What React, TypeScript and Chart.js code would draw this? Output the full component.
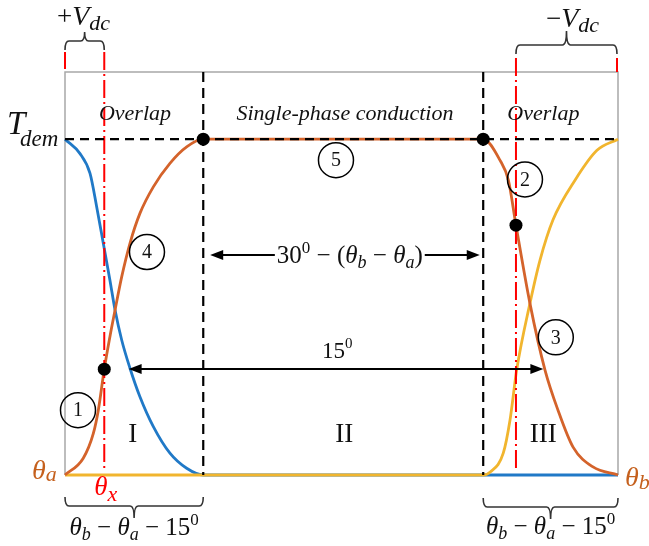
import React, { useEffect, useRef } from "react";
import { Chart, registerables } from "chart.js";
Chart.register(...registerables);

// ---- data (x in arbitrary angle units, y relative to T_dem = 1) ----
const X_MIN = 0;
const X_MAX = 40;
const Y_MIN = 0;
const Y_MAX = 1.2;
const T_DEM = 1;
const PHASE_BOUNDS = [10, 30.25];
const THETA_X = [2.84, 32.62];

const orangeX = [0, 1.32, 2.05, 2.41, 2.84, 3.25, 3.62, 4.1, 4.7, 5.42, 6.39, 7.59, 8.8, 10, 30.25, 31.46, 32.07, 32.62, 33.63, 34.72, 35.66, 36.75, 38.19, 40];
const orangeY = [0, 0.05, 0.124, 0.193, 0.315, 0.412, 0.491, 0.59, 0.69, 0.779, 0.858, 0.928, 0.977, 1, 1, 0.9375, 0.878, 0.744, 0.511, 0.3125, 0.193, 0.083, 0.024, 0];

const blueX = [0, 1.085, 1.81, 2.29, 2.77, 3.25, 3.62, 4.1, 4.7, 5.42, 6.39, 7.59, 8.8, 10, 40];
const blueY = [1, 0.957, 0.898, 0.799, 0.69, 0.58, 0.491, 0.402, 0.318, 0.233, 0.144, 0.065, 0.02, 0, 0];

const yellowX = [0, 30.25, 30.76, 31.7, 32.19, 32.67, 33.63, 34.36, 35.3, 36.89, 38.48, 40];
const yellowY = [0, 0, 0.009, 0.065, 0.164, 0.3125, 0.511, 0.64, 0.76, 0.878, 0.967, 1];

const markerX = [10, 30.25, 2.84, 32.62];
const markerY = [1, 1, 0.315, 0.744];

const circleLabels = ["1", "2", "3", "4", "5"];
const circleX = [0.94, 33.27, 35.5, 5.93, 19.6];
const circleY = [0.193, 0.88, 0.41, 0.664, 0.9375];

const regionLabels = ["I", "II", "III"];
const regionX = [4.9, 20.2, 34.6];
const regionY = 0.12;

const ORANGE = "#d4632b";
const BLUE = "#2079c7";
const YELLOW = "#f1b52e";
const THETA_COL = "#c5601d";
const FONT = '"Liberation Serif", "DejaVu Serif", serif';

type Seg = { t: string; size: number; italic?: boolean; dy?: number };

function segFont(s: Seg) {
  return `${s.italic ? "italic " : ""}${s.size}px ${FONT}`;
}

function drawRich(ctx: CanvasRenderingContext2D, segs: Seg[], x: number, y: number, align: "left" | "center", color: string, bg?: boolean) {
  const widths = segs.map((s) => {
    ctx.font = segFont(s);
    return ctx.measureText(s.t).width;
  });
  const total = widths.reduce((a, b) => a + b, 0);
  let cx = align === "center" ? x - total / 2 : x;
  if (bg) {
    ctx.fillStyle = "#fff";
    ctx.fillRect(cx - 2, y - 20, total + 4, 28);
  }
  ctx.fillStyle = color;
  ctx.textAlign = "left";
  ctx.textBaseline = "alphabetic";
  segs.forEach((s, i) => {
    ctx.font = segFont(s);
    ctx.fillText(s.t, cx, y + (s.dy || 0));
    cx += widths[i];
  });
}

function brace(ctx: CanvasRenderingContext2D, x1: number, x2: number, y: number, endDir: number, tip: number) {
  const xc = (x1 + x2) / 2;
  const r = 4;
  ctx.beginPath();
  ctx.moveTo(x1, y + endDir * 9);
  ctx.quadraticCurveTo(x1, y, x1 + r, y);
  ctx.lineTo(xc - 4, y);
  ctx.quadraticCurveTo(xc, y, xc, y - endDir * tip);
  ctx.quadraticCurveTo(xc, y, xc + 4, y);
  ctx.lineTo(x2 - r, y);
  ctx.quadraticCurveTo(x2, y, x2, y + endDir * 9);
  ctx.stroke();
}

function arrowHead(ctx: CanvasRenderingContext2D, x: number, y: number, dir: number) {
  ctx.beginPath();
  ctx.moveTo(x, y);
  ctx.lineTo(x - dir * 13, y - 5);
  ctx.lineTo(x - dir * 13, y + 5);
  ctx.closePath();
  ctx.fill();
}

function doubleArrow(ctx: CanvasRenderingContext2D, x1: number, x2: number, y: number) {
  ctx.strokeStyle = "#000";
  ctx.fillStyle = "#000";
  ctx.lineWidth = 2;
  ctx.setLineDash([]);
  ctx.beginPath();
  ctx.moveTo(x1 + 6, y);
  ctx.lineTo(x2 - 6, y);
  ctx.stroke();
  arrowHead(ctx, x1, y, -1);
  arrowHead(ctx, x2, y, 1);
}

const annotationPlugin = {
  id: "annotations",
  beforeDatasetsDraw(chart: any) {
    const { ctx, chartArea: a } = chart;
    ctx.save();
    ctx.strokeStyle = "#a8a8a8";
    ctx.lineWidth = 1.5;
    ctx.beginPath();
    ctx.moveTo(a.left, a.bottom);
    ctx.lineTo(a.left, a.top);
    ctx.lineTo(a.right, a.top);
    ctx.lineTo(a.right, a.bottom);
    ctx.stroke();
    ctx.restore();
  },
  beforeDatasetDraw(chart: any, args: any) {
    if (args.index !== 0) return;
    const { ctx, chartArea: a } = chart;
    const X = (v: number) => chart.scales.x.getPixelForValue(v);
    const Y = (v: number) => chart.scales.y.getPixelForValue(v);
    ctx.save();
    ctx.strokeStyle = "#ff0000";
    ctx.lineWidth = 2;
    ctx.setLineDash([18, 4, 2, 4]);
    ctx.beginPath();
    ctx.moveTo(X(THETA_X[0]), a.top - 20);
    ctx.lineTo(X(THETA_X[0]), a.bottom - 5);
    ctx.moveTo(X(THETA_X[1]), a.top - 14);
    ctx.lineTo(X(THETA_X[1]), a.bottom - 7);
    ctx.stroke();
    ctx.setLineDash([]);
    ctx.beginPath();
    ctx.moveTo(X(X_MIN), a.top - 20);
    ctx.lineTo(X(X_MIN), a.top - 3);
    ctx.moveTo(X(X_MAX) - 1, a.top - 14);
    ctx.lineTo(X(X_MAX) - 1, a.top);
    ctx.stroke();
    ctx.strokeStyle = "#000";
    ctx.lineWidth = 2.2;
    ctx.setLineDash([9, 6]);
    ctx.beginPath();
    ctx.moveTo(a.left, Y(T_DEM));
    ctx.lineTo(a.right, Y(T_DEM));
    ctx.stroke();
    ctx.setLineDash([10, 6]);
    PHASE_BOUNDS.forEach((b) => {
      ctx.beginPath();
      ctx.moveTo(X(b), a.top);
      ctx.lineTo(X(b), a.bottom);
      ctx.stroke();
    });
    ctx.restore();
  },
  afterDraw(chart: any) {
    const { ctx, chartArea: a } = chart;
    const X = (v: number) => chart.scales.x.getPixelForValue(v);
    const Y = (v: number) => chart.scales.y.getPixelForValue(v);
    ctx.save();
    ctx.setLineDash([]);

    drawRich(ctx, [{ t: "Overlap", size: 22, italic: true }], X(5.06), a.top + 48, "center", "#111");
    drawRich(ctx, [{ t: "Single-phase conduction", size: 22, italic: true }], X(20.25), a.top + 48, "center", "#111");
    drawRich(ctx, [{ t: "Overlap", size: 22, italic: true }], X(34.6), a.top + 48, "center", "#111");

    doubleArrow(ctx, X(10.5), X(30.0), Y(0.655));
    drawRich(
      ctx,
      [
        { t: "30", size: 25 },
        { t: "0", size: 17, dy: -10 },
        { t: " − (", size: 25 },
        { t: "θ", size: 25, italic: true },
        { t: "b", size: 18, italic: true, dy: 5 },
        { t: " − ", size: 25 },
        { t: "θ", size: 25, italic: true },
        { t: "a", size: 18, italic: true, dy: 5 },
        { t: ")", size: 25 },
      ],
      X(20.6),
      Y(0.655) + 8,
      "center",
      "#111",
      true
    );
    doubleArrow(ctx, X(4.6), X(34.6), Y(0.3155));
    drawRich(ctx, [{ t: "15", size: 23 }, { t: "0", size: 15, dy: -10 }], X(19.7), Y(0.3155) - 11, "center", "#111");

    ctx.strokeStyle = "#000";
    ctx.lineWidth = 1.5;
    circleLabels.forEach((lab, i) => {
      const cx = X(circleX[i]);
      const cy = Y(circleY[i]);
      ctx.beginPath();
      ctx.arc(cx, cy, 17.5, 0, Math.PI * 2);
      ctx.stroke();
      ctx.fillStyle = "#111";
      ctx.font = `20px ${FONT}`;
      ctx.textAlign = "center";
      ctx.textBaseline = "middle";
      ctx.fillText(lab, cx, cy + 1);
    });

    regionLabels.forEach((lab, i) => {
      ctx.fillStyle = "#111";
      ctx.font = `27px ${FONT}`;
      ctx.textAlign = "center";
      ctx.textBaseline = "middle";
      ctx.fillText(lab, X(regionX[i]), Y(regionY));
    });

    drawRich(ctx, [{ t: "T", size: 33, italic: true }], a.left - 58, Y(T_DEM) - 5, "left", "#111");
    drawRich(ctx, [{ t: "dem", size: 23, italic: true }], a.left - 45, Y(T_DEM) + 7, "left", "#111");

    drawRich(ctx, [{ t: "θ", size: 28, italic: true }, { t: "a", size: 22, italic: true, dy: 2 }], a.left - 33, a.bottom + 4, "left", THETA_COL);
    drawRich(ctx, [{ t: "θ", size: 28, italic: true }, { t: "b", size: 22, italic: true, dy: 3 }], a.right + 7, a.bottom + 11, "left", THETA_COL);
    drawRich(ctx, [{ t: "θ", size: 27, italic: true }, { t: "x", size: 22, italic: true, dy: 6 }], X(THETA_X[0]) - 10, a.bottom + 20, "left", "#ff0000");

    ctx.strokeStyle = "#333";
    ctx.lineWidth = 1.6;
    brace(ctx, X(X_MIN), X(THETA_X[0]), a.top - 31, 1, 9);
    brace(ctx, X(THETA_X[1]), X(X_MAX) - 1, a.top - 27, 1, 14);
    drawRich(
      ctx,
      [{ t: "+", size: 27 }, { t: "V", size: 28, italic: true }, { t: "dc", size: 22, italic: true, dy: 5 }],
      a.left - 8,
      a.top - 47,
      "left",
      "#111"
    );
    drawRich(
      ctx,
      [{ t: "−", size: 27 }, { t: "V", size: 28, italic: true }, { t: "dc", size: 22, italic: true, dy: 5 }],
      X(THETA_X[1]) + 30,
      a.top - 45,
      "left",
      "#111"
    );

    brace(ctx, X(X_MIN), X(PHASE_BOUNDS[0]), a.bottom + 31, -1, 12);
    brace(ctx, X(PHASE_BOUNDS[1]), X(X_MAX), a.bottom + 32, -1, 12);
    const bottomLabel: Seg[] = [
      { t: "θ", size: 25, italic: true },
      { t: "b", size: 18, italic: true, dy: 5 },
      { t: " − ", size: 25 },
      { t: "θ", size: 25, italic: true },
      { t: "a", size: 18, italic: true, dy: 5 },
      { t: " − 15", size: 25 },
      { t: "0", size: 17, dy: -10 },
    ];
    drawRich(ctx, bottomLabel, (X(X_MIN) + X(PHASE_BOUNDS[0])) / 2, a.bottom + 60, "center", "#111");
    drawRich(ctx, bottomLabel, (X(PHASE_BOUNDS[1]) + X(X_MAX)) / 2, a.bottom + 59, "center", "#111");

    ctx.restore();
  },
};

function pts(xs: number[], ys: number[]) {
  return xs.map((x, i) => ({ x, y: ys[i] }));
}

export default function App() {
  const ref = useRef<HTMLCanvasElement>(null);
  useEffect(() => {
    const curve = (label: string, xs: number[], ys: number[], color: string, order: number) =>
      ({
        label,
        data: pts(xs, ys),
        borderColor: color,
        borderWidth: 2.8,
        pointRadius: 0,
        cubicInterpolationMode: "monotone",
        order,
        clip: false,
      } as any);
    const chart = new Chart(ref.current!, {
      type: "line",
      data: {
        datasets: [
          {
            label: "markers",
            data: pts(markerX, markerY),
            showLine: false,
            pointRadius: 6.5,
            pointBackgroundColor: "#000",
            pointBorderWidth: 0,
            order: 0,
            clip: false,
          } as any,
          curve("orange", orangeX, orangeY, ORANGE, 1),
          curve("yellow", yellowX, yellowY, YELLOW, 2),
          curve("blue", blueX, blueY, BLUE, 3),
        ],
      },
      options: {
        responsive: false,
        animation: false,
        events: [],
        layout: { padding: { left: 65, right: 31, top: 72, bottom: 71 } },
        scales: {
          x: { type: "linear", min: X_MIN, max: X_MAX, display: false },
          y: { type: "linear", min: Y_MIN, max: Y_MAX, display: false },
        },
        plugins: { legend: { display: false }, tooltip: { enabled: false } },
      },
      plugins: [annotationPlugin],
    });
    return () => chart.destroy();
  }, []);
  return (
    <div style={{ position: "absolute", left: 0, top: 0, width: 649, height: 546, background: "#fff" }}>
      <canvas ref={ref} width={649} height={546} style={{ display: "block", width: 649, height: 546 }} />
    </div>
  );
}
